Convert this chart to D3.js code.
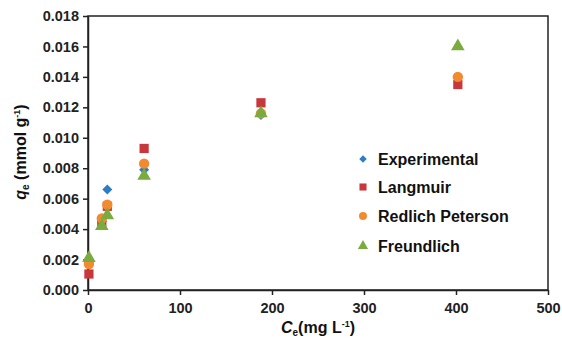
<!DOCTYPE html>
<html><head><meta charset="utf-8">
<script src="https://cdn.jsdelivr.net/npm/d3@7"></script>
<style>body{margin:0;background:#fff}svg{display:block}text{font-family:"Liberation Sans",Arial,sans-serif}</style>
</head><body>
<svg id="c" width="562" height="342"></svg>
<script>
const ce = [1, 15, 21, 61, 188, 402];
const experimental = [0.0018, 0.0045, 0.0066, 0.0079, 0.0115, 0.0140];
const langmuir = [0.00105, 0.0043, 0.0055, 0.0093, 0.0123, 0.0135];
const redlich = [0.0017, 0.0047, 0.0056, 0.0083, 0.0116, 0.0140];
const freundlich = [0.0021, 0.0042, 0.0049, 0.0075, 0.0116, 0.0160];
const xTicks = [0, 100, 200, 300, 400, 500];
const yTicks = [0, 0.002, 0.004, 0.006, 0.008, 0.010, 0.012, 0.014, 0.016, 0.018];
const seriesNames = ["Experimental", "Langmuir", "Redlich Peterson", "Freundlich"];
const colors = ["#2f7cc5", "#c8373c", "#f28b30", "#7aab3f"];
const shapes = [d3.symbolSquare, d3.symbolSquare, d3.symbolCircle, d3.symbolTriangle];
const rot = [45, 0, 0, 0];
const sizes = [50, 85, 85, 80];
const legSizes = [28, 50, 50, 45];

const svg = d3.select("#c");
const L = 88, R = 548, T = 16, B = 290;
const x = d3.scaleLinear().domain([0, 500]).range([L, R]);
const y = d3.scaleLinear().domain([0, 0.018]).range([B, T]);

svg.append("rect").attr("x", L).attr("y", T).attr("width", R - L).attr("height", B - T)
  .attr("fill", "none").attr("stroke", "#222").attr("stroke-width", 1.5);

const xa = svg.append("g").attr("transform", `translate(0,${B})`)
  .call(d3.axisBottom(x).tickValues(xTicks).tickSize(5).tickSizeOuter(0).tickFormat(d3.format("d")));
const ya = svg.append("g").attr("transform", `translate(${L},0)`)
  .call(d3.axisLeft(y).tickValues(yTicks).tickSize(5).tickSizeOuter(0).tickFormat(d3.format(".3f")));
[xa, ya].forEach(a => {
  a.select(".domain").attr("stroke", "#222").attr("stroke-width", 1.5);
  a.selectAll(".tick line").attr("stroke", "#222").attr("stroke-width", 1.5);
  a.selectAll("text").attr("font-size", 14.5).attr("font-weight", "bold").attr("fill", "#222")
    .attr("font-family", '"Liberation Sans",Arial,sans-serif');
});
xa.selectAll("text").attr("y", 9).attr("dy", "0.95em");
ya.selectAll("text").attr("x", -9);

const all = [experimental, langmuir, redlich, freundlich];
function mark(sel, i, size) {
  return sel.attr("d", d3.symbol().type(shapes[i]).size(size)).attr("fill", colors[i]);
}
all.forEach((vals, i) => {
  mark(svg.append("g").selectAll("path").data(vals).join("path")
    .attr("transform", (d, j) => `translate(${x(ce[j])},${y(d)}) rotate(${rot[i]})`), i, sizes[i]);
});

const lg = svg.append("g");
const rowsY = [159, 187, 216, 246];
seriesNames.forEach((n, i) => {
  mark(lg.append("path").attr("transform", `translate(363,${rowsY[i]}) rotate(${rot[i]})`), i, legSizes[i]);
  lg.append("text").attr("x", 378).attr("y", rowsY[i]).attr("dy", "0.36em")
    .attr("font-size", 16).attr("font-weight", "bold").attr("fill", "#111").text(n);
});

const yl = svg.append("text").attr("transform", "translate(26,152) rotate(-90)")
  .attr("text-anchor", "middle").attr("font-size", 16).attr("font-weight", "bold").attr("fill", "#111");
yl.append("tspan").attr("font-style", "italic").text("q");
yl.append("tspan").attr("font-size", 10).attr("dy", 3).text("e");
yl.append("tspan").attr("dy", -3).text(" (mmol g");
yl.append("tspan").attr("font-size", 9).attr("dy", -6).text("-1");
yl.append("tspan").attr("dy", 6).text(")");

const xl = svg.append("text").attr("x", 318).attr("y", 333)
  .attr("text-anchor", "middle").attr("font-size", 16).attr("font-weight", "bold").attr("fill", "#111");
xl.append("tspan").attr("font-style", "italic").text("C");
xl.append("tspan").attr("font-size", 10).attr("dy", 3).text("e");
xl.append("tspan").attr("dy", -3).text("(mg L");
xl.append("tspan").attr("font-size", 9).attr("dy", -6).text("-1");
xl.append("tspan").attr("dy", 6).text(")");
</script>
</body></html>
